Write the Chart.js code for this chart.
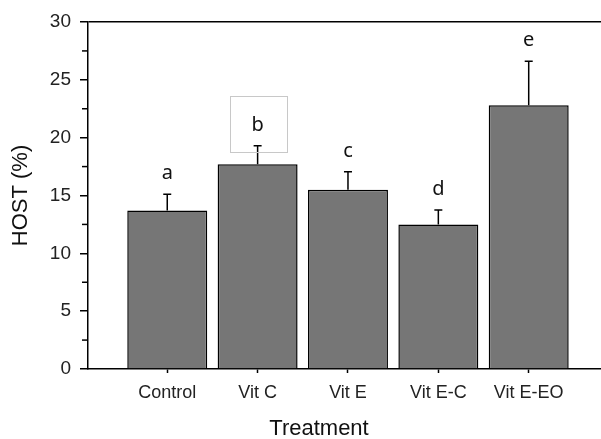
<!DOCTYPE html>
<html>
<head>
<meta charset="utf-8">
<script src="https://cdn.jsdelivr.net/npm/chart.js@4.4.0/dist/chart.umd.min.js"></script>
<style>
	body { margin: 0; background: #fff; }
</style>
</head>
<body>
<canvas id="myChart" width="601" height="439"></canvas>
<script>
const treatments = ["Control", "Vit C", "Vit E", "Vit E-C", "Vit E-EO"];
const hostMeans = [13.7, 17.7, 15.5, 12.5, 22.8];
const hostSE = [1.4, 1.6, 1.55, 1.25, 3.8];
const groupLetters = ["a", "b", "c", "d", "e"];
const yTicks = [0, 5, 10, 15, 20, 25, 30];
const yMinorTicks = [2.5, 7.5, 12.5, 17.5, 22.5, 27.5];

// bars sit on a linear x scale so the axis can run past the first and last bar
const barData = hostMeans.map((v, i) => ({x: i + 1, y: v}));

const extras = {
	id: "extras",
	afterDatasetsDraw(chart) {
		const ctx = chart.ctx;
		const yScale = chart.scales.y;
		const area = chart.chartArea;
		const bars = chart.getDatasetMeta(0).data;
		ctx.save();
		ctx.strokeStyle = "#000";
		ctx.lineWidth = 1.5;

		// minor ticks on the y axis
		yMinorTicks.forEach(v => {
			const py = yScale.getPixelForValue(v);
			ctx.beginPath();
			ctx.moveTo(area.left - 6, py);
			ctx.lineTo(area.left, py);
			ctx.stroke();
		});

		// upper error bars and group letters
		bars.forEach((bar, i) => {
			const top = yScale.getPixelForValue(hostMeans[i] + hostSE[i]);
			ctx.beginPath();
			ctx.moveTo(bar.x, bar.y);
			ctx.lineTo(bar.x, top);
			ctx.moveTo(bar.x - 4, top);
			ctx.lineTo(bar.x + 4, top);
			ctx.stroke();

			const base = top - 15;
			ctx.fillStyle = "#111";
			ctx.font = "20px 'Noto Sans'";
			ctx.textAlign = "center";
			ctx.textBaseline = "alphabetic";
			ctx.fillText(groupLetters[i], bar.x, base);

			if (i === 1) {
				ctx.save();
				ctx.strokeStyle = "#c8c8c8";
				ctx.lineWidth = 1;
				ctx.strokeRect(Math.round(bar.x - 28) + 0.5, Math.round(base - 35) + 0.5, 57, 56);
				ctx.restore();
			}
		});

		// x axis title, centred where the original figure had it
		ctx.fillStyle = "#111";
		ctx.font = "22px 'Liberation Sans'";
		ctx.textAlign = "center";
		ctx.textBaseline = "middle";
		ctx.fillText("Treatment", 319, 429);
		ctx.restore();
	}
};

new Chart(document.getElementById("myChart"), {
	type: "bar",
	data: {
		datasets: [{
			data: barData,
			backgroundColor: "#767676",
			borderColor: "#000",
			borderWidth: 1.5,
			barPercentage: 0.885,
			categoryPercentage: 1
		}]
	},
	options: {
		responsive: false,
		animation: false,
		layout: {padding: {top: 22, right: 0, bottom: 0, left: 0}},
		plugins: {
			legend: {display: false},
			tooltip: {enabled: false}
		},
		scales: {
			x: {
				type: "linear",
				min: 0.123,
				max: 5.8,
				offset: false,
				afterFit: s => { s.height = 70; },
				afterBuildTicks: s => { s.ticks = treatments.map((t, i) => ({value: i + 1})); },
				ticks: {
					autoSkip: false,
					maxRotation: 0,
					padding: 9,
					color: "#222",
					font: {family: "'Liberation Sans'", size: 18},
					callback: v => treatments[v - 1]
				},
				grid: {offset: false, drawOnChartArea: false, tickLength: 4, tickColor: "#000", tickWidth: 1.5},
				border: {color: "#000", width: 1.5}
			},
			y: {
				min: 0,
				max: 30,
				afterFit: s => { s.width = 88; },
				afterBuildTicks: s => { s.ticks = yTicks.map(v => ({value: v})); },
				ticks: {
					padding: 9,
					color: "#222",
					font: {family: "'Liberation Sans'", size: 19}
				},
				grid: {
					color: c => c.tick && c.tick.value === 30 ? "#000" : "rgba(0,0,0,0)",
					lineWidth: 1.5,
					tickLength: 8,
					tickColor: "#000",
					tickWidth: 1.5
				},
				border: {color: "#000", width: 1.5},
				title: {
					display: true,
					text: "HOST (%)",
					color: "#111",
					font: {family: "'Liberation Sans'", size: 22},
					padding: {top: 8, bottom: 0}
				}
			}
		}
	},
	plugins: [extras]
});
</script>
</body>
</html>
